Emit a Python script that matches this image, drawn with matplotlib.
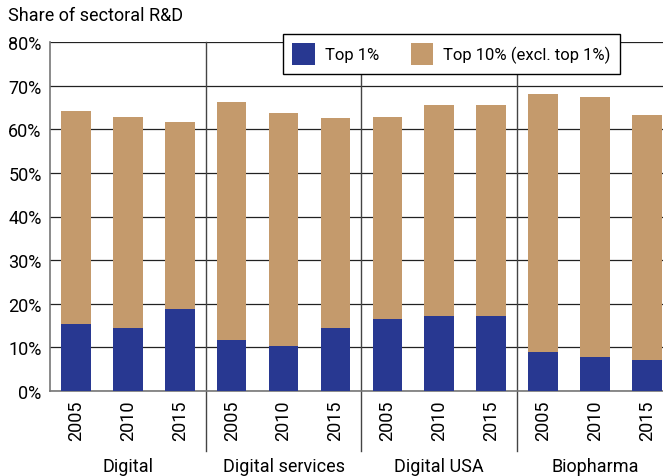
import numpy as np
import matplotlib.pyplot as plt

plt.rcParams['font.family'] = ['Roboto', 'DejaVu Sans']

# Data (shares of sectoral R&D, %)
groups = ["Digital", "Digital services", "Digital USA", "Biopharma"]
years = ["2005", "2010", "2015"]
top1 = [15.4, 14.4, 18.8,
        11.6, 10.4, 14.5,
        16.6, 17.1, 17.1,
        9.0, 7.9, 7.2]
top10_total = [64.2, 62.8, 61.7,
               66.3, 63.8, 62.6,
               62.9, 65.5, 65.5,
               68.1, 67.5, 63.2]
top10_excl = [t - b for t, b in zip(top10_total, top1)]

blue = "#283891"
tan = "#C49A6C"

fig = plt.figure(figsize=(6.63, 4.77), dpi=100)
ax = fig.add_axes([50 / 663, (477 - 392) / 477, 613 / 663, 349 / 477])

x = np.arange(len(top1))
ax.bar(x, top1, width=0.57, color=blue, label="Top 1%", zorder=3)
ax.bar(x, top10_excl, width=0.57, bottom=top1, color=tan,
       label="Top 10% (excl. top 1%)", zorder=3)

ax.set_ylim(0, 80)
ax.set_xlim(-0.5, 11.31)
ax.set_yticks(range(0, 81, 10))
ax.set_yticklabels([f"{v}%" for v in range(0, 81, 10)], fontsize=13)
ax.yaxis.grid(True, color="#222222", linewidth=0.9, zorder=0)
ax.set_axisbelow(True)

ax.set_xticks(x)
ax.set_xticklabels(years * len(groups), rotation=90, fontsize=13)
ax.tick_params(axis="x", length=0, pad=6)
ax.tick_params(axis="y", length=0, pad=6)

for side in ["top", "right"]:
    ax.spines[side].set_visible(False)
for side in ["left", "bottom"]:
    ax.spines[side].set_color("#777777")
    ax.spines[side].set_linewidth(1.2)

# group separators
for i in range(1, len(groups)):
    ax.plot([3 * i - 0.5, 3 * i - 0.5], [1, -0.172], color="#444444",
            linewidth=1.0, transform=ax.get_xaxis_transform(),
            clip_on=False, zorder=1)

# group labels
for i, g in enumerate(groups):
    ax.text(3 * i + 1, -0.215, g, transform=ax.get_xaxis_transform(),
            ha="center", va="center", fontsize=13)

leg = ax.legend(loc="upper left", bbox_to_anchor=(0.38, 1.023), ncol=2,
                frameon=True, fancybox=False, edgecolor="black",
                fontsize=12, borderaxespad=0, handlelength=1.35,
                handleheight=1.6, handletextpad=0.6, columnspacing=1.9,
                borderpad=0.55, framealpha=1)
leg.get_frame().set_linewidth(1.0)
leg.set_zorder(5)

fig.text(8 / 663, 1 - 16 / 477, "Share of sectoral R&D", fontsize=13,
         ha="left", va="center")

fig.savefig("out.png", dpi=100)
